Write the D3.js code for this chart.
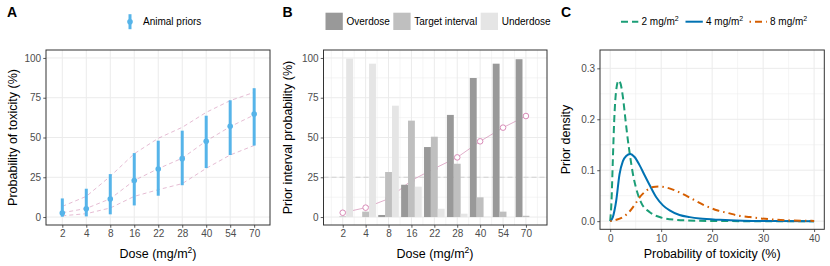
<!DOCTYPE html>
<html>
<head>
<meta charset="utf-8">
<script src="https://cdn.jsdelivr.net/npm/d3@7"></script>
<style>
  body { margin: 0; background: #fff; }
  svg { display: block; font-family: "Liberation Sans", Arial, sans-serif; }
</style>
</head>
<body>
<div id="chart"></div>
<script>
// doses (mg/m2)
const doses = ['2', '4', '8', '16', '22', '28', '40', '54', '70'];

// panel A: animal priors, median and interval, plus three dashed reference curves
const priorMedian = [2.5, 5.2, 11.3, 22.9, 30.2, 36.7, 47.6, 57, 64.8];
const priorLow = [0.2, 0.4, 1.7, 7.3, 13.4, 20, 30.8, 39, 44.9];
const priorHigh = [11.7, 17.8, 27, 40.2, 48, 54.3, 63.7, 73.4, 81];
const refUpper = [6.7, 13, 25.6, 39.8, 49.5, 56.4, 65.8, 73.2, 78.4];
const refMiddle = [2.7, 5.4, 11.5, 23, 30.4, 37, 47.8, 56.8, 64.2];
const refLower = [0.8, 2.1, 5.7, 13, 17.2, 21, 30.6, 39, 45];

// panel B: prior interval probabilities (%)
const overdose = [0, 0, 1.3, 20.3, 44, 64.2, 87.4, 96.4, 99.2];
const target = [0.4, 3.4, 28.3, 60.6, 50.5, 33.5, 12.4, 3.4, 0.8];
const underdose = [99.6, 96.4, 70, 19.1, 5.2, 2.1, 0.2, 0, 0];
const meanTox = [2.7, 5.9, 11.5, 23, 30.5, 37.5, 47.6, 56.2, 63.5];
const intervalNames = ['Overdose', 'Target interval', 'Underdose'];

// panel C: prior densities, [probability of toxicity (%), density]
const dens2 = [[0,0],[0.26,0.04],[0.52,0.12],[0.79,0.198],[1.18,0.257],[1.64,0.276],[2.03,0.27],[2.49,0.244],[3.01,0.198],[3.47,0.159],[3.93,0.126],[4.45,0.093],[5.1,0.064],[6.1,0.036],[7.7,0.018],[9.7,0.008],[13,0.0026],[17.5,0.0007],[22,0.0001],[30,0],[40,0]];
const dens4 = [[0,0],[0.52,0.008],[1.18,0.04],[1.83,0.092],[2.49,0.118],[3.14,0.128],[3.93,0.132],[4.78,0.126],[5.76,0.11],[6.75,0.09],[7.73,0.071],[9.04,0.047],[10.35,0.031],[11.66,0.021],[13.6,0.012],[15.6,0.0079],[17.55,0.0052],[21.5,0.0026],[26,0.001],[32,0.0003],[40,0]];
const dens8 = [[0,0],[1.2,0.0026],[2.5,0.008],[3.8,0.019],[4.8,0.032],[5.8,0.047],[7.1,0.06],[8.4,0.067],[9.7,0.068],[11,0.066],[12.3,0.062],[14.3,0.053],[16.2,0.043],[18.5,0.031],[21.1,0.021],[23.1,0.016],[25.1,0.011],[27.4,0.008],[31,0.004],[35.2,0.0015],[40,0.0005]];
const densLabels = ['2', '4', '8'];

const font = '"Liberation Sans", Arial, sans-serif';
const grid = '#ebebeb';
const ink = '#333333';
const tickText = '#4d4d4d';

const svg = d3.select('#chart')
  .append('svg')
  .attr('width', 830)
  .attr('height', 266);

// shared panel helpers
const drawGrid = (g, box, x, y, xs, ys, width) => {
  g.append('g').selectAll('line').data(xs).join('line')
    .attr('x1', d => x(d)).attr('x2', d => x(d))
    .attr('y1', box.top).attr('y2', box.bottom)
    .attr('stroke', grid).attr('stroke-width', width);
  g.append('g').selectAll('line').data(ys).join('line')
    .attr('x1', box.left).attr('x2', box.right)
    .attr('y1', d => y(d)).attr('y2', d => y(d))
    .attr('stroke', grid).attr('stroke-width', width);
};

const styleAxis = g => {
  g.select('.domain').remove();
  g.selectAll('line').attr('stroke', ink).attr('stroke-width', 0.8);
  g.selectAll('text').attr('fill', tickText).attr('font-size', 10).attr('font-family', font);
};

const drawAxes = (g, box, x, y, xAxis, yAxis) => {
  g.append('g')
    .attr('transform', `translate(0, ${box.bottom})`)
    .call(xAxis.tickSize(2.75).tickPadding(2.6))
    .call(styleAxis);
  g.append('g')
    .attr('transform', `translate(${box.left}, 0)`)
    .call(yAxis.tickSize(2.75).tickPadding(2.2))
    .call(styleAxis);
};

const border = (g, box) => g.append('rect')
  .attr('x', box.left).attr('y', box.top)
  .attr('width', box.right - box.left).attr('height', box.bottom - box.top)
  .attr('fill', 'none').attr('stroke', ink).attr('stroke-width', 1);

const yTitle = (g, x, y, label) => g.append('text')
  .attr('transform', `translate(${x}, ${y}) rotate(-90)`)
  .attr('text-anchor', 'middle')
  .attr('font-size', 12.5)
  .attr('fill', '#000')
  .text(label);

const doseTitle = (g, x, y) => {
  const t = g.append('text')
    .attr('x', x).attr('y', y)
    .attr('text-anchor', 'middle')
    .attr('font-size', 12.5);
  t.append('tspan').text('Dose (mg/m');
  t.append('tspan').attr('font-size', 8.5).attr('dy', -5).text('2');
  t.append('tspan').attr('dy', 5).text(')');
};

const panelLetter = (x, label) => svg.append('text')
  .attr('x', x).attr('y', 17)
  .attr('font-size', 14).attr('font-weight', 'bold')
  .text(label);

// ---------- Panel A ----------
const boxA = {left: 46, right: 270, top: 50, bottom: 225};
const gA = svg.append('g');
const xA = d3.scaleLinear().domain([0.32, 9.66]).range([boxA.left, boxA.right]);
const yA = d3.scaleLinear().domain([-5, 105]).range([boxA.bottom, boxA.top]);
const idx = d3.range(1, doses.length + 1);

drawGrid(gA, boxA, xA, yA, idx, [0, 25, 50, 75, 100], 1);

const refLine = d3.line().x((d, i) => xA(i + 1)).y(d => yA(d));
gA.append('g').selectAll('path')
  .data([refUpper, refMiddle, refLower])
  .join('path')
  .attr('d', refLine)
  .attr('fill', 'none')
  .attr('stroke', '#CC79A7')
  .attr('stroke-opacity', 0.5)
  .attr('stroke-width', 1)
  .attr('stroke-dasharray', '4,3');

gA.append('g').selectAll('line')
  .data(idx)
  .join('line')
  .attr('x1', d => xA(d)).attr('x2', d => xA(d))
  .attr('y1', d => yA(priorLow[d - 1])).attr('y2', d => yA(priorHigh[d - 1]))
  .attr('stroke', '#56B4E9').attr('stroke-width', 3);
gA.append('g').selectAll('circle')
  .data(idx)
  .join('circle')
  .attr('cx', d => xA(d)).attr('cy', d => yA(priorMedian[d - 1]))
  .attr('r', 2.8).attr('fill', '#56B4E9');

border(gA, boxA);
drawAxes(gA, boxA, xA, yA,
  d3.axisBottom(xA).tickValues(idx).tickFormat(i => doses[i - 1]),
  d3.axisLeft(yA).tickValues([0, 25, 50, 75, 100]));
yTitle(gA, 16.5, 137.5, 'Probability of toxicity (%)');
doseTitle(gA, 158, 257.5);

// legend A
const legA = svg.append('g').attr('transform', 'translate(130, 21.7)');
legA.append('line').attr('y1', -7.5).attr('y2', 7.5)
  .attr('stroke', '#56B4E9').attr('stroke-width', 3);
legA.append('circle').attr('r', 2.8).attr('fill', '#56B4E9');
legA.append('text').attr('x', 13).attr('y', 3.6)
  .attr('font-size', 10).text('Animal priors');
panelLetter(7, 'A');

// ---------- Panel B ----------
const boxB = {left: 323.5, right: 547, top: 50, bottom: 225};
const gB = svg.append('g');
const xB = d3.scaleLinear().domain([0.16, 9.92]).range([boxB.left, boxB.right]);
const yB = d3.scaleLinear().domain([-5, 105]).range([boxB.bottom, boxB.top]);
const barColor = d3.scaleOrdinal().domain(intervalNames).range(['#999999', '#bfbfbf', '#e5e5e5']);

drawGrid(gB, boxB, xB, yB, d3.range(0.5, 10, 1), [12.5, 37.5, 62.5, 87.5], 0.55);
drawGrid(gB, boxB, xB, yB, idx, [0, 25, 50, 75, 100], 1);

gB.append('line')
  .attr('x1', boxB.left).attr('x2', boxB.right)
  .attr('y1', yB(25)).attr('y2', yB(25))
  .attr('stroke', '#d3d3d3').attr('stroke-width', 1.2)
  .attr('stroke-dasharray', '5,3');

gB.append('path')
  .datum(meanTox)
  .attr('d', d3.line().x((d, i) => xB(i + 1)).y(d => yB(d)))
  .attr('fill', 'none')
  .attr('stroke', '#CC79A7').attr('stroke-opacity', 0.6).attr('stroke-width', 1);
gB.append('g').selectAll('circle')
  .data(meanTox)
  .join('circle')
  .attr('cx', (d, i) => xB(i + 1)).attr('cy', d => yB(d))
  .attr('r', 2.8)
  .attr('fill', '#fff').attr('stroke', '#d98cb8').attr('stroke-width', 1);

const barRows = [overdose, target, underdose];
const dodge = d3.scaleBand().domain(intervalNames).range([-0.45, 0.45]);
const barData = barRows.flatMap((row, k) =>
  row.map((v, i) => ({pos: i + 1, name: intervalNames[k], value: v})));
gB.append('g').selectAll('rect')
  .data(barData)
  .join('rect')
  .attr('x', d => xB(d.pos + dodge(d.name)))
  .attr('width', d => xB(d.pos + dodge(d.name) + dodge.bandwidth()) - xB(d.pos + dodge(d.name)))
  .attr('y', d => yB(d.value))
  .attr('height', d => yB(0) - yB(d.value))
  .attr('fill', d => barColor(d.name));

border(gB, boxB);
drawAxes(gB, boxB, xB, yB,
  d3.axisBottom(xB).tickValues(idx).tickFormat(i => doses[i - 1]),
  d3.axisLeft(yB).tickValues([0, 25, 50, 75, 100]));
yTitle(gB, 292, 137.5, 'Prior interval probability (%)');
doseTitle(gB, 435, 257.5);

// legend B
const legBx = [325.5, 393.3, 480.7];
const legB = svg.append('g').selectAll('g')
  .data(intervalNames)
  .join('g')
  .attr('transform', (d, i) => `translate(${legBx[i]}, 12.7)`);
legB.append('rect').attr('width', 17.3).attr('height', 17.3)
  .attr('fill', d => barColor(d));
legB.append('text').attr('x', 21).attr('y', 12.3)
  .attr('font-size', 10).text(d => d);
panelLetter(282.5, 'B');

// ---------- Panel C ----------
const boxC = {left: 600, right: 824.3, top: 50, bottom: 229.3};
const gC = svg.append('g');
const xC = d3.scaleLinear().domain([-2, 42]).range([boxC.left, boxC.right]);
const yC = d3.scaleLinear().domain([-0.016, 0.336]).range([boxC.bottom, boxC.top]);
const densColor = ['#1B9E77', '#0072B2', '#D55E00'];
const densDash = ['7,4', null, '1.5,4,7,4'];

drawGrid(gC, boxC, xC, yC, [5, 15, 25, 35], [0.05, 0.15, 0.25], 0.55);
drawGrid(gC, boxC, xC, yC, [0, 10, 20, 30, 40], [0, 0.1, 0.2, 0.3], 1);

const densLine = d3.line()
  .x(d => xC(d[0])).y(d => yC(d[1]))
  .curve(d3.curveMonotoneX);
gC.append('g').selectAll('path')
  .data([dens2, dens4, dens8])
  .join('path')
  .attr('d', densLine)
  .attr('fill', 'none')
  .attr('stroke', (d, i) => densColor[i])
  .attr('stroke-width', 2)
  .attr('stroke-dasharray', (d, i) => densDash[i]);

border(gC, boxC);
drawAxes(gC, boxC, xC, yC,
  d3.axisBottom(xC).tickValues([0, 10, 20, 30, 40]),
  d3.axisLeft(yC).tickValues([0, 0.1, 0.2, 0.3]).tickFormat(d3.format('.1f')));
yTitle(gC, 570, 139.6, 'Prior density');
gC.append('text')
  .attr('x', (boxC.left + boxC.right) / 2).attr('y', 257.5)
  .attr('text-anchor', 'middle').attr('font-size', 12.5)
  .text('Probability of toxicity (%)');

// legend C
const legCx = [621, 685.5, 749.5];
const legC = svg.append('g').selectAll('g')
  .data(densLabels)
  .join('g')
  .attr('transform', (d, i) => `translate(${legCx[i]}, 21.7)`);
legC.append('line').attr('x1', 0).attr('x2', 17.3)
  .attr('stroke', (d, i) => densColor[i]).attr('stroke-width', 2)
  .attr('stroke-dasharray', (d, i) => densDash[i]);
const legCText = legC.append('text').attr('x', 20.5).attr('y', 3.6).attr('font-size', 10);
legCText.append('tspan').text(d => `${d} mg/m`);
legCText.append('tspan').attr('font-size', 7).attr('dy', -4).text('2');
panelLetter(561, 'C');
</script>
</body>
</html>
